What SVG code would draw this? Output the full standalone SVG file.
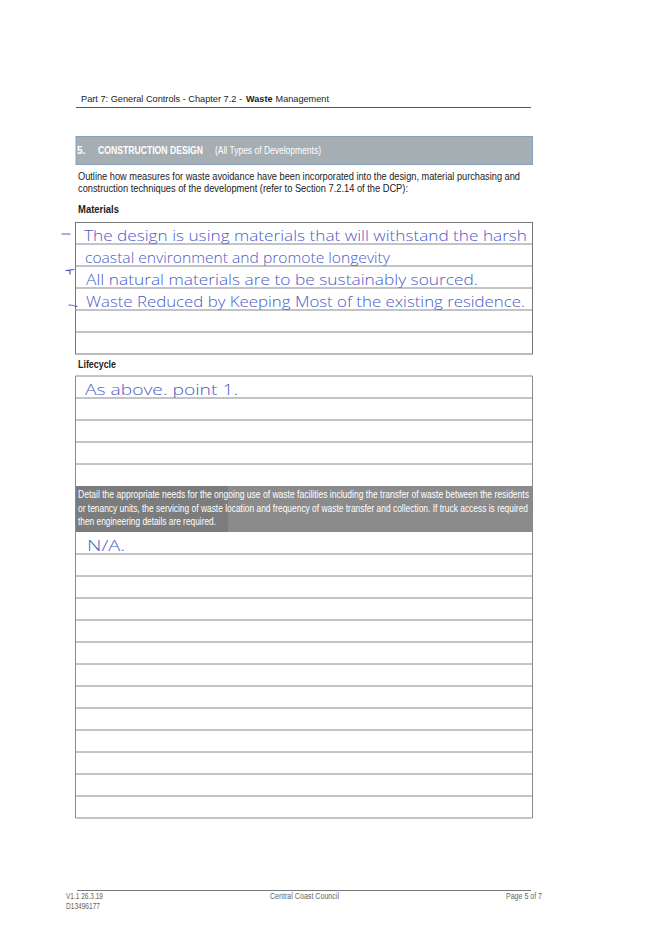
<svg xmlns="http://www.w3.org/2000/svg" width="669" height="946" viewBox="0 0 669 946">
<style>
.pt{font-family:"Liberation Sans",Arial,sans-serif;fill:#222;font-size:10.5px}
.hd{font-family:"Liberation Sans",Arial,sans-serif;fill:#222;font-size:9.2px}
.b{font-weight:bold}
.ft{font-family:"Liberation Sans",Arial,sans-serif;fill:#666;font-size:8.5px}
.wt{font-family:"Liberation Sans",Arial,sans-serif;fill:#fff;font-size:10px}
.hw{font-family:"Open Sans","DejaVu Sans",sans-serif;font-weight:300;fill:#4a5bc8;font-size:15px}
.box{fill:none;stroke:#777;stroke-width:1}
.rl{stroke:#888;stroke-width:1}
.dash{stroke:#4a5bc8;stroke-width:1.2;stroke-linecap:round;fill:none}
</style>
<rect width="669" height="946" fill="#fff"/>
<g id="header">
<text class="hd" x="81" y="102" textLength="161" lengthAdjust="spacingAndGlyphs">Part 7:  General Controls - Chapter 7.2 -</text>
<text class="hd b" x="246" y="102" textLength="26.5" lengthAdjust="spacingAndGlyphs">Waste</text>
<text class="hd" x="275.5" y="102" textLength="53.5" lengthAdjust="spacingAndGlyphs">Management</text>
<line x1="76" y1="107.5" x2="531" y2="107.5" stroke="#555" stroke-width="1.2"/>
</g>
<g id="banner">
<rect x="76" y="136.5" width="456.5" height="28" fill="#a4aeb3" stroke="#8aa2bf" stroke-width="1"/>
<text class="wt b" x="77" y="154" font-size="10.5">5.</text>
<text class="wt b" x="98" y="154" font-size="10.5" textLength="105" lengthAdjust="spacingAndGlyphs">CONSTRUCTION DESIGN</text>
<text class="wt" x="215" y="154" font-size="8.5" textLength="106" lengthAdjust="spacingAndGlyphs">(All Types of  Developments)</text>
</g>
<g id="intro">
<text class="pt" x="78" y="180" textLength="442" lengthAdjust="spacingAndGlyphs">Outline how measures for waste avoidance have been incorporated into the design, material purchasing and</text>
<text class="pt" x="78" y="192" textLength="330" lengthAdjust="spacingAndGlyphs">construction techniques of the development (refer to Section 7.2.14 of the DCP):</text>
</g>
<g id="materials">
<text class="pt b" x="78" y="213" textLength="41" lengthAdjust="spacingAndGlyphs">Materials</text>
<rect class="box" x="75.5" y="222.5" width="457" height="131.5"/>
<line class="rl" x1="75.5" y1="244" x2="532.5" y2="244"/>
<line class="rl" x1="75.5" y1="266" x2="532.5" y2="266"/>
<line class="rl" x1="75.5" y1="288" x2="532.5" y2="288"/>
<line class="rl" x1="75.5" y1="310" x2="532.5" y2="310"/>
<line class="rl" x1="75.5" y1="332" x2="532.5" y2="332"/>
<line class="dash" x1="62" y1="234" x2="70" y2="234"/>
<path class="dash" d="M66 270.5 L74 269.5 M70 270 L70 274"/>
<path class="dash" d="M69 305 Q73 305 77 306.5"/>
<text class="hw" x="84" y="241" textLength="443" lengthAdjust="spacingAndGlyphs">The design is using materials that will withstand the harsh</text>
<text class="hw" x="85" y="263" textLength="305" lengthAdjust="spacingAndGlyphs">coastal environment and promote longevity</text>
<text class="hw" x="86" y="285" textLength="392" lengthAdjust="spacingAndGlyphs">All natural materials are to be sustainably sourced.</text>
<text class="hw" x="86" y="307" textLength="439" lengthAdjust="spacingAndGlyphs">Waste Reduced by Keeping Most of the existing residence.</text>
</g>
<g id="lifecycle">
<text class="pt b" x="78" y="368" textLength="38" lengthAdjust="spacingAndGlyphs">Lifecycle</text>
<line class="rl" x1="75.5" y1="376" x2="532.5" y2="376"/>
<line class="rl" x1="75.5" y1="398" x2="532.5" y2="398"/>
<line class="rl" x1="75.5" y1="420" x2="532.5" y2="420"/>
<line class="rl" x1="75.5" y1="442" x2="532.5" y2="442"/>
<line class="rl" x1="75.5" y1="464" x2="532.5" y2="464"/>
<text class="hw" x="85" y="395" textLength="153" lengthAdjust="spacingAndGlyphs">As above. point 1.</text>
</g>
<g id="ongoing">
<rect x="76" y="486" width="456.5" height="46" fill="#8b8b8b"/>
<rect x="76" y="486" width="152" height="46" fill="#7c7c7c"/>
<text class="wt" x="78" y="498" textLength="451" lengthAdjust="spacingAndGlyphs">Detail the appropriate needs for the ongoing use of waste facilities including the transfer of waste between the residents</text>
<text class="wt" x="78" y="511.5" textLength="450" lengthAdjust="spacingAndGlyphs">or tenancy units, the servicing of waste location and frequency of waste transfer and collection.  If truck access is required</text>
<text class="wt" x="78" y="525" textLength="138" lengthAdjust="spacingAndGlyphs">then engineering details are required.</text>
<line class="rl" x1="75.5" y1="554" x2="532.5" y2="554"/>
<line class="rl" x1="75.5" y1="576" x2="532.5" y2="576"/>
<line class="rl" x1="75.5" y1="598" x2="532.5" y2="598"/>
<line class="rl" x1="75.5" y1="620" x2="532.5" y2="620"/>
<line class="rl" x1="75.5" y1="642" x2="532.5" y2="642"/>
<line class="rl" x1="75.5" y1="664" x2="532.5" y2="664"/>
<line class="rl" x1="75.5" y1="686" x2="532.5" y2="686"/>
<line class="rl" x1="75.5" y1="708" x2="532.5" y2="708"/>
<line class="rl" x1="75.5" y1="730" x2="532.5" y2="730"/>
<line class="rl" x1="75.5" y1="752" x2="532.5" y2="752"/>
<line class="rl" x1="75.5" y1="774" x2="532.5" y2="774"/>
<line class="rl" x1="75.5" y1="796" x2="532.5" y2="796"/>
<line class="rl" x1="75.5" y1="818" x2="532.5" y2="818"/>
<line class="rl" x1="75.5" y1="376" x2="75.5" y2="818"/>
<line class="rl" x1="532.5" y1="376" x2="532.5" y2="818"/>
<text class="hw" x="87" y="551" textLength="38" lengthAdjust="spacingAndGlyphs">N/A.</text>
</g>
<g id="footer">
<line x1="77" y1="890.5" x2="531" y2="890.5" stroke="#777" stroke-width="1"/>
<text class="ft" x="66" y="899" textLength="37" lengthAdjust="spacingAndGlyphs">V1.1  26.3.19</text>
<text class="ft" x="66" y="909" textLength="34" lengthAdjust="spacingAndGlyphs">D13496177</text>
<text class="ft" x="270" y="899" textLength="69" lengthAdjust="spacingAndGlyphs">Central Coast Council</text>
<text class="ft" x="506" y="899" textLength="36" lengthAdjust="spacingAndGlyphs">Page 5 of 7</text>
</g>
</svg>
